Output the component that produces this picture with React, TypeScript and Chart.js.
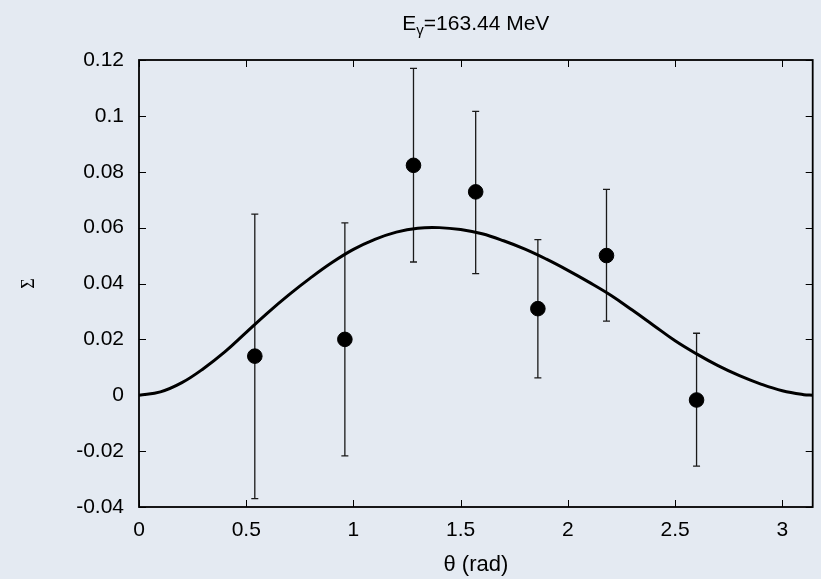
import { useEffect, useRef } from "react";
import { Chart, registerables } from "chart.js";

Chart.register(...registerables);

// Measured beam asymmetry Σ versus polar angle θ (rad)
const thetaPoints = [0.54, 0.96, 1.28, 1.57, 1.86, 2.18, 2.6];
const sigmaValues = [0.014, 0.02, 0.0823, 0.0728, 0.031, 0.05, -0.0017];
const sigmaUpper = [0.0648, 0.0617, 0.117, 0.1016, 0.0557, 0.0737, 0.0222];
const sigmaLower = [-0.037, -0.0217, 0.0477, 0.0435, 0.0062, 0.0265, -0.0254];

// Model curve sampled along θ
const fitTheta = [0, 0.1, 0.2, 0.3, 0.4, 0.5, 0.6, 0.7, 0.8, 0.9, 1.0, 1.1, 1.2, 1.3, 1.4, 1.5, 1.6, 1.7, 1.8, 1.9, 2.0, 2.1, 2.2, 2.3, 2.4, 2.5, 2.6, 2.7, 2.8, 2.9, 3.0, 3.1, Math.PI];
const fitSigma = [0, 0.0012, 0.0045, 0.0095, 0.0155, 0.0225, 0.0295, 0.036, 0.042, 0.0475, 0.0522, 0.0558, 0.0584, 0.0598, 0.06, 0.0593, 0.0578, 0.0553, 0.0523, 0.0487, 0.0447, 0.0404, 0.0358, 0.0305, 0.025, 0.0195, 0.0148, 0.0106, 0.007, 0.004, 0.0016, 0.0002, 0];

const xTicks = [0, 0.5, 1, 1.5, 2, 2.5, 3];
const xTickLabels = ["0", "0.5", "1", "1.5", "2", "2.5", "3"];
const yTicks = [-0.04, -0.02, 0, 0.02, 0.04, 0.06, 0.08, 0.1, 0.12];
const yTickLabels = ["-0.04", "-0.02", "0", "0.02", "0.04", "0.06", "0.08", "0.1", "0.12"];

const titleMain = "E";
const titleSub = "γ";
const titleRest = "=163.44 MeV";
const xTitle = "θ (rad)";
const yTitle = "Σ";

const SANS = "'Liberation Sans', Arial, Helvetica, sans-serif";

const errorBarPlugin = {
  id: "errorBars",
  beforeDatasetsDraw(chart: any) {
    const { ctx, scales } = chart;
    const xs = scales.x;
    const ys = scales.y;
    ctx.save();
    ctx.strokeStyle = "#1a1a1a";
    ctx.lineWidth = 1.3;
    const cap = 3.5;
    thetaPoints.forEach((t, i) => {
      const px = xs.getPixelForValue(t);
      const top = ys.getPixelForValue(sigmaUpper[i]);
      const bot = ys.getPixelForValue(sigmaLower[i]);
      ctx.beginPath();
      ctx.moveTo(px, top);
      ctx.lineTo(px, bot);
      ctx.moveTo(px - cap, top);
      ctx.lineTo(px + cap, top);
      ctx.moveTo(px - cap, bot);
      ctx.lineTo(px + cap, bot);
      ctx.stroke();
    });
    ctx.restore();
  },
};

const framePlugin = {
  id: "frame",
  afterDatasetsDraw(chart: any) {
    const { ctx, chartArea, scales } = chart;
    const { left, right, top, bottom } = chartArea;
    const tick = 7;
    ctx.save();
    ctx.strokeStyle = "#000";
    ctx.lineWidth = 1;
    ctx.beginPath();
    xTicks.forEach((v) => {
      const px = Math.round(scales.x.getPixelForValue(v)) + 0.5;
      ctx.moveTo(px, bottom);
      ctx.lineTo(px, bottom - tick);
      ctx.moveTo(px, top);
      ctx.lineTo(px, top + tick);
    });
    yTicks.forEach((v) => {
      const py = Math.round(scales.y.getPixelForValue(v)) + 0.5;
      ctx.moveTo(left, py);
      ctx.lineTo(left + tick, py);
      ctx.moveTo(right, py);
      ctx.lineTo(right - tick, py);
    });
    ctx.stroke();
    ctx.lineWidth = 1.8;
    ctx.strokeRect(left, top, right - left, bottom - top);
    ctx.restore();
  },
};

const titlePlugin = {
  id: "subTitle",
  afterDraw(chart: any) {
    const { ctx, chartArea } = chart;
    const big = `21px ${SANS}`;
    const small = `15px ${SANS}`;
    ctx.save();
    ctx.fillStyle = "#000";
    ctx.textBaseline = "alphabetic";
    ctx.textAlign = "left";
    ctx.font = big;
    const w1 = ctx.measureText(titleMain).width;
    const w3 = ctx.measureText(titleRest).width;
    ctx.font = small;
    const w2 = ctx.measureText(titleSub).width;
    const total = w1 + w2 + w3;
    const cx = (chartArea.left + chartArea.right) / 2;
    let x = cx - total / 2;
    const base = 30;
    ctx.font = big;
    ctx.fillText(titleMain, x, base);
    x += w1;
    ctx.font = small;
    ctx.fillText(titleSub, x, base + 5);
    x += w2;
    ctx.font = big;
    ctx.fillText(titleRest, x, base);
    ctx.restore();
  },
};

export default function App() {
  const canvasRef = useRef<HTMLCanvasElement | null>(null);

  useEffect(() => {
    const canvas = canvasRef.current;
    if (!canvas) return;

    const chart = new Chart(canvas, {
      type: "scatter",
      data: {
        datasets: [
          {
            label: "data",
            data: thetaPoints.map((t, i) => ({ x: t, y: sigmaValues[i] })),
            backgroundColor: "#000",
            borderColor: "#000",
            pointRadius: 7.3,
            pointHoverRadius: 7.3,
            showLine: false,
          },
          {
            label: "fit",
            data: fitTheta.map((t, i) => ({ x: t, y: fitSigma[i] })),
            showLine: true,
            borderColor: "#000",
            borderWidth: 3,
            pointRadius: 0,
            pointHoverRadius: 0,
            tension: 0.4,
            fill: false,
          },
        ],
      },
      options: {
        animation: false,
        responsive: false,
        maintainAspectRatio: false,
        layout: { padding: { top: 60, right: 6, left: 0, bottom: 0 } },
        plugins: {
          legend: { display: false },
          tooltip: { enabled: false },
          title: { display: false },
        },
        scales: {
          x: {
            type: "linear",
            min: 0,
            max: Math.PI,
            grid: { display: false, drawTicks: false },
            border: { display: false },
            afterBuildTicks: (scale: any) => {
              scale.ticks = xTicks.map((v) => ({ value: v }));
            },
            afterFit: (scale: any) => {
              scale.height = 72;
            },
            ticks: {
              color: "#000",
              padding: 11,
              maxRotation: 0,
              autoSkip: false,
              font: { family: SANS, size: 21 },
              callback: (v: any) => {
                const i = xTicks.findIndex((t) => Math.abs(t - Number(v)) < 1e-9);
                return i >= 0 ? xTickLabels[i] : "";
              },
            },
            title: {
              display: true,
              text: xTitle,
              color: "#000",
              font: { family: SANS, size: 22 },
              padding: { top: 0, bottom: 1 },
            },
          },
          y: {
            type: "linear",
            min: -0.04,
            max: 0.12,
            grid: { display: false, drawTicks: false },
            border: { display: false },
            afterBuildTicks: (scale: any) => {
              scale.ticks = yTicks.map((v) => ({ value: v }));
            },
            afterFit: (scale: any) => {
              scale.width = 139;
            },
            ticks: {
              color: "#000",
              padding: 15,
              autoSkip: false,
              font: { family: SANS, size: 21 },
              callback: (v: any) => {
                const i = yTicks.findIndex((t) => Math.abs(t - Number(v)) < 1e-9);
                return i >= 0 ? yTickLabels[i] : "";
              },
            },
            title: {
              display: true,
              text: yTitle,
              color: "#000",
              font: { family: "'Liberation Serif', 'DejaVu Serif', serif", size: 18 },
              padding: { top: 18, bottom: 0 },
            },
          },
        },
      },
      plugins: [errorBarPlugin, framePlugin, titlePlugin],
    } as any);

    return () => chart.destroy();
  }, []);

  return (
    <div
      style={{
        position: "fixed",
        left: 0,
        top: 0,
        width: 821,
        height: 579,
        background: "#e4eaf2",
      }}
    >
      <canvas ref={canvasRef} width={821} height={579} style={{ display: "block" }} />
    </div>
  );
}
